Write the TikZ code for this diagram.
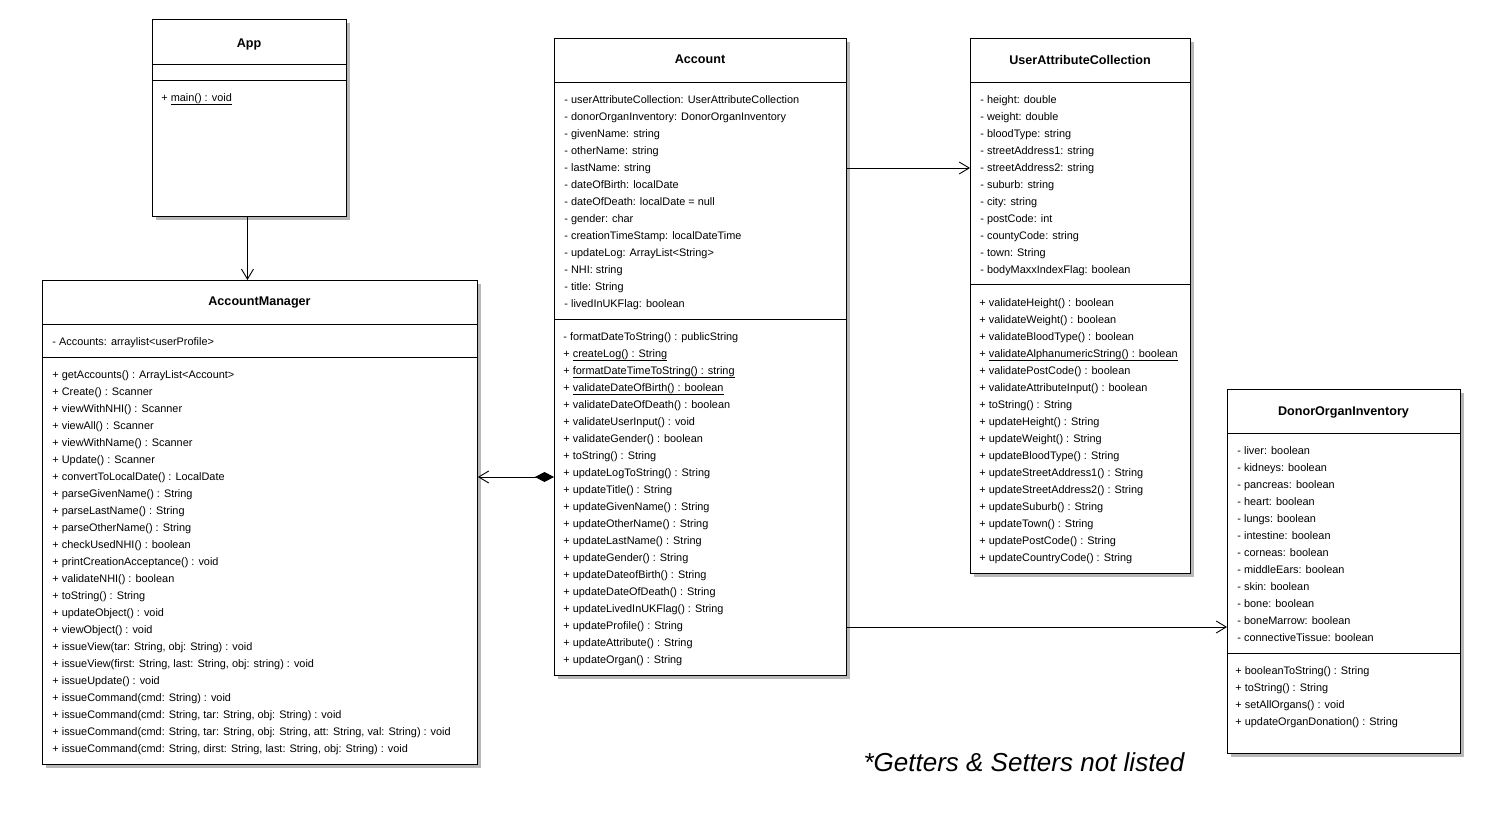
\documentclass[tikz,border=0pt]{standalone}
\usepackage{fontspec}
\setmainfont{Liberation Sans}
\usetikzlibrary{shadows,arrows.meta}

\begin{document}
\begin{tikzpicture}[x=1pt,y=-1pt,line width=0.9pt,
  cls/.style={draw,fill=white,anchor=north west,inner sep=0pt,
    drop shadow={shadow xshift=4pt,shadow yshift=-4pt,fill=black!28,opacity=1}},
  title/.style={font=\bfseries\fontsize{12.6}{14}\selectfont,anchor=base,inner sep=0pt},
  item/.style={font=\fontsize{10.9}{12}\selectfont,anchor=base west,inner sep=0pt},
  assoc/.style={-{Straight Barb[length=10pt,width=12pt]}},
  compo/.style={{Diamond[length=19pt,width=10pt]}-{Straight Barb[length=10pt,width=12pt]}}]
\useasboundingbox (0,0) rectangle (1505,819);

\node[cls, minimum width=194pt, minimum height=197pt] (app) at (152,19) {};
\draw (152,64) -- (346,64) (152,80) -- (346,80);
\node[title] (app-t) at (249,47.5) {App};
\node[item] (app-m0) at (161,101) {+ \underline{main() : void}};

\node[cls, minimum width=435pt, minimum height=484pt] (mgr) at (42,280) {};
\draw (42,324) -- (477,324) (42,357) -- (477,357);
\node[title] (mgr-t) at (259.5,305.5) {AccountManager};
\node[item] (mgr-a0) at (52,345) {- Accounts: arraylist<userProfile>};
\foreach \t [count=\i from 0] in {getAccounts() : ArrayList<Account>, Create() : Scanner,
    viewWithNHI() : Scanner, viewAll() : Scanner, viewWithName() : Scanner, Update() : Scanner,
    convertToLocalDate() : LocalDate, parseGivenName() : String, parseLastName() : String,
    parseOtherName() : String, checkUsedNHI() : boolean, printCreationAcceptance() : void,
    validateNHI() : boolean, toString() : String, updateObject() : void, viewObject() : void,
    {issueView(tar: String, obj: String) : void},
    {issueView(first: String, last: String, obj: string) : void},
    issueUpdate() : void, issueCommand(cmd: String) : void,
    {issueCommand(cmd: String, tar: String, obj: String) : void},
    {issueCommand(cmd: String, tar: String, obj: String, att: String, val: String) : void},
    {issueCommand(cmd: String, dirst: String, last: String, obj: String) : void}}
  \node[item] (mgr-m\i) at (52,378+17*\i) {+ \t};

\node[cls, minimum width=292pt, minimum height=637pt] (acct) at (554,38) {};
\draw (554,82) -- (846,82) (554,319) -- (846,319);
\node[title] (acct-t) at (700,63.5) {Account};
\foreach \t [count=\i from 0] in {userAttributeCollection: UserAttributeCollection,
    donorOrganInventory: DonorOrganInventory, givenName: string, otherName: string,
    lastName: string, dateOfBirth: localDate, dateOfDeath: localDate = null, gender: char,
    creationTimeStamp: localDateTime, updateLog: ArrayList<String>, NHI: string,
    title: String, livedInUKFlag: boolean}
  \node[item] (acct-a\i) at (564,103+17*\i) {- \t};
\foreach \t [count=\i from 0] in {- formatDateToString() : publicString,
    + \underline{createLog() : String}, + \underline{formatDateTimeToString() : string},
    + \underline{validateDateOfBirth() : boolean}, + validateDateOfDeath() : boolean,
    + validateUserInput() : void, + validateGender() : boolean, + toString() : String,
    + updateLogToString() : String, + updateTitle() : String, + updateGivenName() : String,
    + updateOtherName() : String, + updateLastName() : String, + updateGender() : String,
    + updateDateofBirth() : String, + updateDateOfDeath() : String,
    + updateLivedInUKFlag() : String, + updateProfile() : String,
    + updateAttribute() : String, + updateOrgan() : String}
  \node[item] (acct-m\i) at (563,340+17*\i) {\t};

\node[cls, minimum width=220pt, minimum height=535pt] (uac) at (970,38) {};
\draw (970,82) -- (1190,82) (970,284) -- (1190,284);
\node[title] (uac-t) at (1080,64.5) {UserAttributeCollection};
\foreach \t [count=\i from 0] in {height: double, weight: double, bloodType: string,
    streetAddress1: string, streetAddress2: string, suburb: string, city: string,
    postCode: int, countyCode: string, town: String, bodyMaxxIndexFlag: boolean}
  \node[item] (uac-a\i) at (980,103+17*\i) {- \t};
\foreach \t [count=\i from 0] in {validateHeight() : boolean, validateWeight() : boolean,
    validateBloodType() : boolean, \underline{validateAlphanumericString() : boolean},
    validatePostCode() : boolean, validateAttributeInput() : boolean, toString() : String,
    updateHeight() : String, updateWeight() : String, updateBloodType() : String,
    updateStreetAddress1() : String, updateStreetAddress2() : String,
    updateSuburb() : String, updateTown() : String, updatePostCode() : String,
    updateCountryCode() : String}
  \node[item] (uac-m\i) at (979,306+17*\i) {+ \t};

\node[cls, minimum width=233pt, minimum height=364pt] (doi) at (1227,389) {};
\draw (1227,433) -- (1460,433) (1227,653) -- (1460,653);
\node[title] (doi-t) at (1343.5,415.5) {DonorOrganInventory};
\foreach \t [count=\i from 0] in {liver, kidneys, pancreas, heart, lungs, intestine,
    corneas, middleEars, skin, bone, boneMarrow, connectiveTissue}
  \node[item] (doi-a\i) at (1237,454+17*\i) {- \t: boolean};
\foreach \t [count=\i from 0] in {booleanToString() : String, toString() : String,
    setAllOrgans() : void, updateOrganDonation() : String}
  \node[item] (doi-m\i) at (1235,674+17*\i) {+ \t};

\node[font=\itshape\fontsize{26}{30}\selectfont] (note) at (1024,762) {*Getters \& Setters not listed};

\coordinate (y1) at (0,477);
\coordinate (y2) at (0,168);
\coordinate (y3) at (0,627);
\draw[assoc] ([xshift=-2pt]app.south) -- ([xshift=-2pt]app.south |- mgr.north);
\draw[compo] (acct.west |- y1) -- (mgr.east |- y1);
\draw[assoc] (acct.east |- y2) -- (uac.west |- y2);
\draw[assoc] (acct.east |- y3) -- (doi.west |- y3);
\end{tikzpicture}
\end{document}
